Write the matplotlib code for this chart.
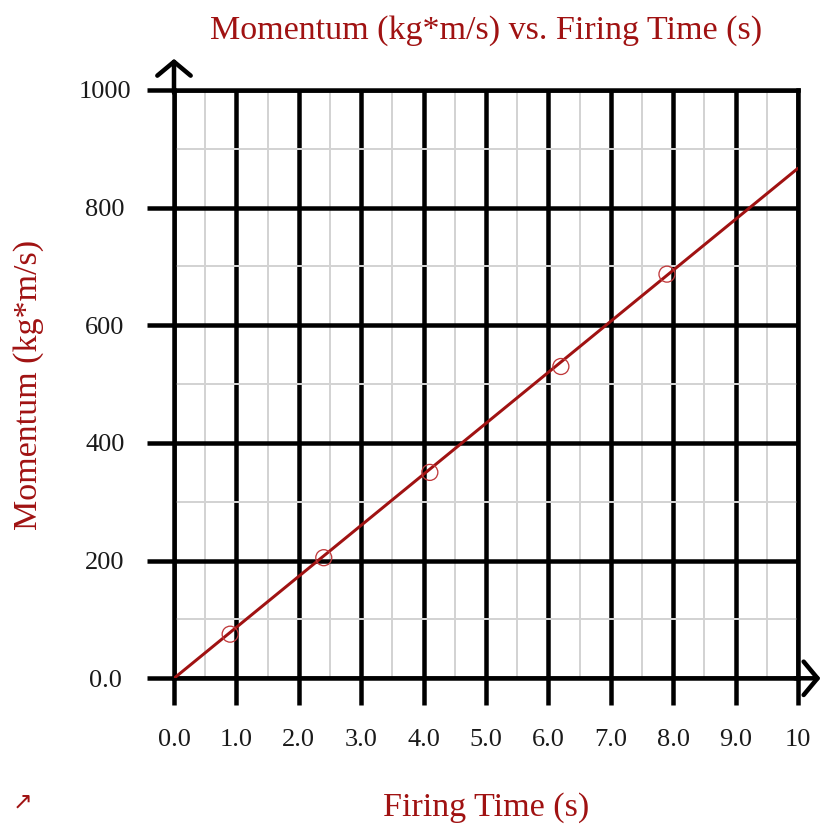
import matplotlib
matplotlib.use("Agg")
import matplotlib.pyplot as plt
from matplotlib.ticker import MultipleLocator, FixedLocator

# Data
time_s = [0.9, 2.4, 4.1, 6.2, 7.9]
momentum = [75, 205, 350, 530, 687]
fit_x = [0.0, 10.0]
fit_y = [0.0, 867.0]
x_ticks = [0, 1, 2, 3, 4, 5, 6, 7, 8, 9, 10]
x_tick_labels = ["0.0", "1.0", "2.0", "3.0", "4.0", "5.0", "6.0", "7.0", "8.0", "9.0", "10"]
y_ticks = [0, 200, 400, 600, 800, 1000]
y_tick_labels = ["0.0", "200", "400", "600", "800", "1000"]

RED = "#a01212"
W, H = 823, 824
DPI = 100
px = 72.0 / DPI

plt.rcParams['font.family'] = ['Liberation Serif', 'DejaVu Serif']

fig = plt.figure(figsize=(W / DPI, H / DPI), dpi=DPI)
ax = fig.add_axes([174 / W, (H - 678.3) / H, (798 - 174) / W, (678.3 - 90) / H])
ax.set_xlim(0, 10)
ax.set_ylim(0, 1000)

ax.xaxis.set_major_locator(FixedLocator(x_ticks))
ax.yaxis.set_major_locator(FixedLocator(y_ticks))
ax.xaxis.set_minor_locator(MultipleLocator(0.5))
ax.yaxis.set_minor_locator(MultipleLocator(100))
ax.set_xticklabels(x_tick_labels)
ax.set_yticklabels(y_tick_labels)

LW = 4.5 * px
ax.grid(which='minor', color='#d3d3d3', linewidth=2 * px, zorder=0)
ax.grid(which='major', color='black', linewidth=LW, zorder=1)
ax.set_axisbelow(True)

ax.tick_params(which='minor', length=0)
ax.tick_params(which='major', length=27 * px, width=LW, color='black',
               labelsize=19, labelcolor='#1a1a1a')
ax.tick_params(axis='x', which='major', pad=24 * px)
ax.tick_params(axis='y', which='major', pad=42 * px)
for lab in ax.get_yticklabels():
    lab.set_horizontalalignment('center')

for s in ax.spines.values():
    s.set_color('black')
    s.set_linewidth(LW)

ax.plot(fit_x, fit_y, color=RED, linewidth=3 * px, zorder=3, solid_capstyle='round')
ax.scatter(time_s, momentum, s=(16 * px) ** 2, facecolors='none', edgecolors='#c0393b',
           linewidths=1.3 * px, zorder=4)

# axis arrows
arrow_style = '->,head_length=0.5,head_width=0.6'
ax.annotate('', xy=(0, 1053), xytext=(0, 995), annotation_clip=False,
            arrowprops=dict(arrowstyle=arrow_style, mutation_scale=20,
                            color='black', lw=LW, shrinkA=0, shrinkB=0))
ax.annotate('', xy=(10.36, 0), xytext=(9.95, 0), annotation_clip=False,
            arrowprops=dict(arrowstyle=arrow_style, mutation_scale=20,
                            color='black', lw=LW, shrinkA=0, shrinkB=0))

fig.text(486 / W, (H - 39) / H, "Momentum (kg*m/s) vs. Firing Time (s)", color=RED,
         fontsize=24.5, ha='center', va='baseline')
fig.text(486 / W, (H - 816) / H, "Firing Time (s)", color=RED,
         fontsize=24.5, ha='center', va='baseline')
fig.text(37 / W, (H - 385) / H, "Momentum (kg*m/s)", color=RED, fontsize=24.5,
         rotation=90, rotation_mode='anchor', ha='center', va='baseline')
fig.text(23 / W, (H - 802) / H, "\u2197", color=RED, fontsize=17,
         ha='center', va='center', family=['DejaVu Sans'])

fig.savefig("out.png", dpi=DPI)
